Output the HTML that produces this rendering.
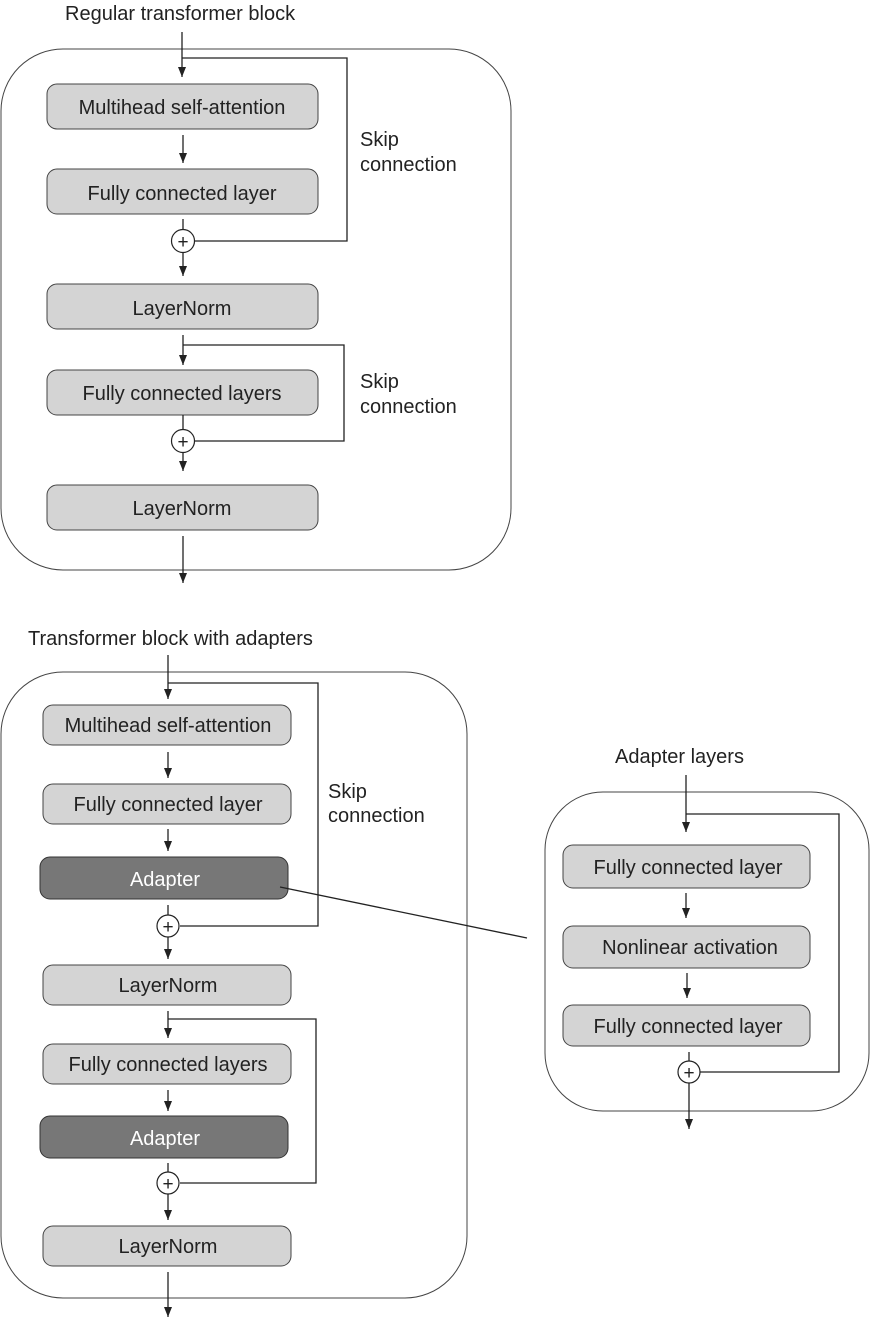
<!DOCTYPE html>
<html><head><style>
html,body{margin:0;padding:0;background:#fff;}
svg{display:block;}
text{font-family:"Liberation Sans",sans-serif;font-size:20px;fill:#222;}
.b{fill:#d4d4d4;stroke:#444;stroke-width:1;}
.d{fill:#777;stroke:#333;stroke-width:1;}
.l{stroke:#222;stroke-width:1.3;fill:none;}
.o{fill:none;stroke:#444;stroke-width:1;}
.c{fill:#fff;stroke:#222;stroke-width:1.2;}
.p{font-size:19px;}
</style></head><body>
<svg width="871" height="1318" viewBox="0 0 871 1318">
<defs><marker id="ar" markerWidth="12" markerHeight="12" refX="10" refY="5" orient="auto" markerUnits="userSpaceOnUse"><path d="M0,1 L10,5 L0,9 Z" fill="#222"/></marker></defs>

<!-- Top block -->
<text x="65" y="20">Regular transformer block</text>
<rect class="o" x="1" y="49" width="510" height="521" rx="62"/>
<line class="l" x1="182" y1="32" x2="182" y2="77" marker-end="url(#ar)"/>
<polyline class="l" points="182,58 347,58 347,241 195,241"/>
<rect class="b" x="47" y="84" width="271" height="45" rx="10"/>
<text x="182" y="114" text-anchor="middle">Multihead self-attention</text>
<line class="l" x1="183" y1="135" x2="183" y2="163" marker-end="url(#ar)"/>
<rect class="b" x="47" y="169" width="271" height="45" rx="10"/>
<text x="182" y="200" text-anchor="middle">Fully connected layer</text>
<line class="l" x1="183" y1="219" x2="183" y2="230"/>
<circle class="c" cx="183" cy="241" r="11.5"/>
<text class="p" x="183" y="248" text-anchor="middle">+</text>
<line class="l" x1="183" y1="253" x2="183" y2="276" marker-end="url(#ar)"/>
<text x="360" y="146">Skip</text>
<text x="360" y="171">connection</text>
<rect class="b" x="47" y="284" width="271" height="45" rx="10"/>
<text x="182" y="315" text-anchor="middle">LayerNorm</text>
<line class="l" x1="183" y1="335" x2="183" y2="365" marker-end="url(#ar)"/>
<polyline class="l" points="183,345 344,345 344,441 195,441"/>
<text x="360" y="388">Skip</text>
<text x="360" y="413">connection</text>
<rect class="b" x="47" y="370" width="271" height="45" rx="10"/>
<text x="182" y="400" text-anchor="middle">Fully connected layers</text>
<line class="l" x1="183" y1="415" x2="183" y2="430"/>
<circle class="c" cx="183" cy="441" r="11.5"/>
<text class="p" x="183" y="448" text-anchor="middle">+</text>
<line class="l" x1="183" y1="453" x2="183" y2="471" marker-end="url(#ar)"/>
<rect class="b" x="47" y="485" width="271" height="45" rx="10"/>
<text x="182" y="515" text-anchor="middle">LayerNorm</text>
<line class="l" x1="183" y1="536" x2="183" y2="583" marker-end="url(#ar)"/>

<!-- Bottom block -->
<text x="28" y="645">Transformer block with adapters</text>
<rect class="o" x="1" y="672" width="466" height="626" rx="62"/>
<line class="l" x1="168" y1="655" x2="168" y2="699" marker-end="url(#ar)"/>
<polyline class="l" points="168,683 318,683 318,926 180,926"/>
<rect class="b" x="43" y="705" width="248" height="40" rx="10"/>
<text x="168" y="732" text-anchor="middle">Multihead self-attention</text>
<line class="l" x1="168" y1="752" x2="168" y2="778" marker-end="url(#ar)"/>
<rect class="b" x="43" y="784" width="248" height="40" rx="10"/>
<text x="168" y="811" text-anchor="middle">Fully connected layer</text>
<line class="l" x1="168" y1="829" x2="168" y2="851" marker-end="url(#ar)"/>
<rect class="d" x="40" y="857" width="248" height="42" rx="10"/>
<text x="165" y="886" text-anchor="middle" style="fill:#fff">Adapter</text>
<line class="l" x1="168" y1="905" x2="168" y2="915"/>
<circle class="c" cx="168" cy="926" r="11"/>
<text class="p" x="168" y="933" text-anchor="middle">+</text>
<line class="l" x1="168" y1="937" x2="168" y2="959" marker-end="url(#ar)"/>
<text x="328" y="798">Skip</text>
<text x="328" y="822">connection</text>
<line class="l" x1="280" y1="887" x2="527" y2="938"/>
<rect class="b" x="43" y="965" width="248" height="40" rx="10"/>
<text x="168" y="992" text-anchor="middle">LayerNorm</text>
<line class="l" x1="168" y1="1011" x2="168" y2="1038" marker-end="url(#ar)"/>
<polyline class="l" points="168,1019 316,1019 316,1183 180,1183"/>
<rect class="b" x="43" y="1044" width="248" height="40" rx="10"/>
<text x="168" y="1071" text-anchor="middle">Fully connected layers</text>
<line class="l" x1="168" y1="1090" x2="168" y2="1111" marker-end="url(#ar)"/>
<rect class="d" x="40" y="1116" width="248" height="42" rx="10"/>
<text x="165" y="1145" text-anchor="middle" style="fill:#fff">Adapter</text>
<line class="l" x1="168" y1="1163" x2="168" y2="1172"/>
<circle class="c" cx="168" cy="1183" r="11"/>
<text class="p" x="168" y="1190" text-anchor="middle">+</text>
<line class="l" x1="168" y1="1194" x2="168" y2="1220" marker-end="url(#ar)"/>
<rect class="b" x="43" y="1226" width="248" height="40" rx="10"/>
<text x="168" y="1253" text-anchor="middle">LayerNorm</text>
<line class="l" x1="168" y1="1272" x2="168" y2="1317" marker-end="url(#ar)"/>

<!-- Adapter layers -->
<text x="615" y="763">Adapter layers</text>
<rect class="o" x="545" y="792" width="324" height="319" rx="58"/>
<line class="l" x1="686" y1="775" x2="686" y2="832" marker-end="url(#ar)"/>
<polyline class="l" points="686,814 839,814 839,1072 700,1072"/>
<rect class="b" x="563" y="845" width="247" height="43" rx="10"/>
<text x="688" y="874" text-anchor="middle">Fully connected layer</text>
<line class="l" x1="686" y1="893" x2="686" y2="918" marker-end="url(#ar)"/>
<rect class="b" x="563" y="926" width="247" height="42" rx="10"/>
<text x="690" y="954" text-anchor="middle">Nonlinear activation</text>
<line class="l" x1="687" y1="973" x2="687" y2="998" marker-end="url(#ar)"/>
<rect class="b" x="563" y="1005" width="247" height="41" rx="10"/>
<text x="688" y="1033" text-anchor="middle">Fully connected layer</text>
<line class="l" x1="689" y1="1052" x2="689" y2="1061"/>
<circle class="c" cx="689" cy="1072" r="11"/>
<text class="p" x="689" y="1079" text-anchor="middle">+</text>
<line class="l" x1="689" y1="1083" x2="689" y2="1129" marker-end="url(#ar)"/>
</svg>
</body></html>
